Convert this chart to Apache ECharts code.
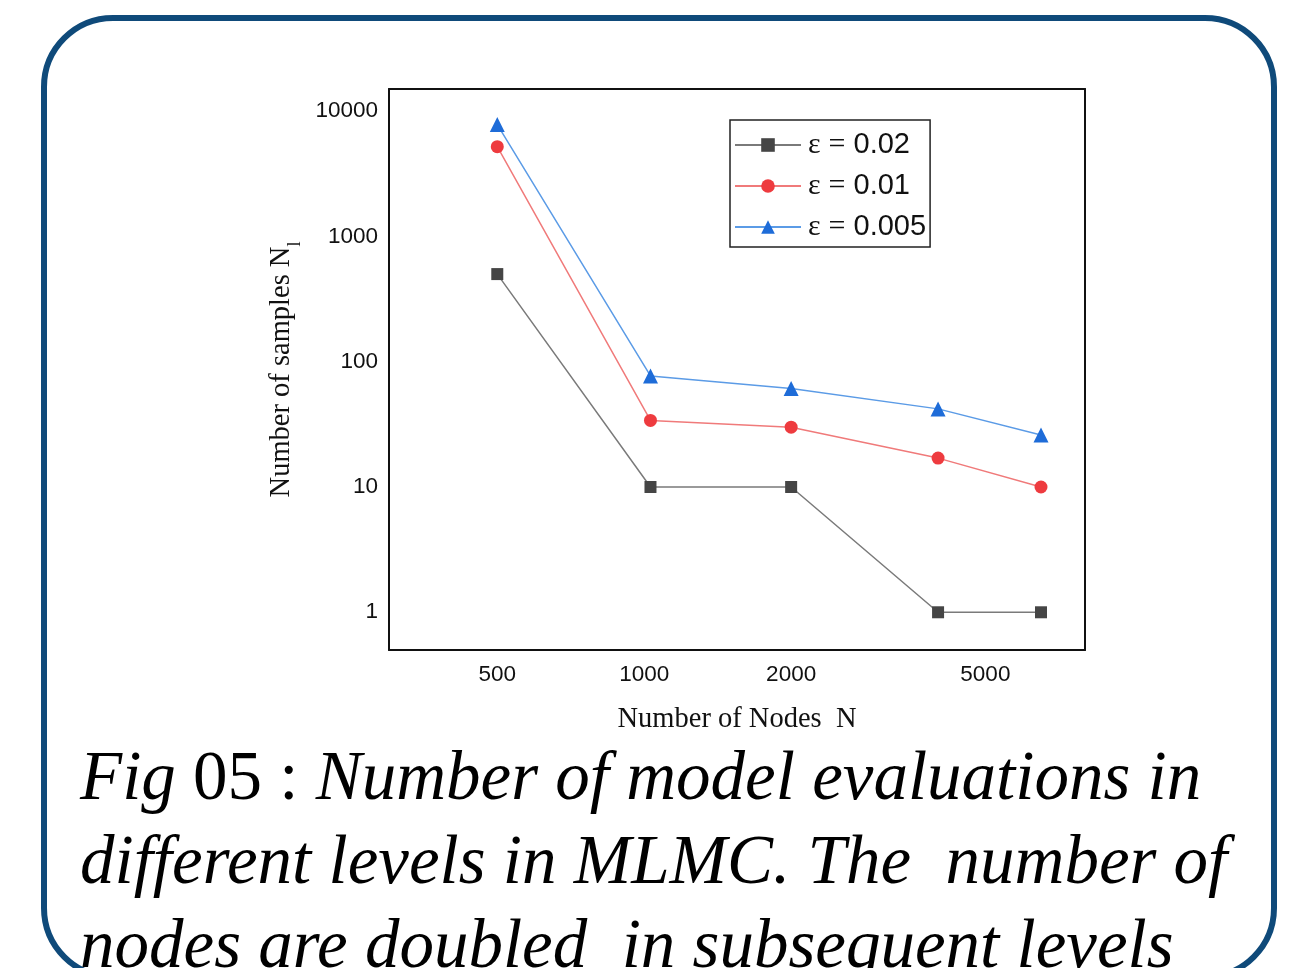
<!DOCTYPE html>
<html>
<head>
<meta charset="utf-8">
<script src="https://cdn.jsdelivr.net/npm/echarts@6/dist/echarts.min.js"></script>
<style>
  html, body { margin: 0; padding: 0; background: #fff; width: 1308px; height: 968px; overflow: hidden; position: relative; }
  #frame { position: absolute; left: 41px; top: 15px; width: 1236px; height: 965px; box-sizing: border-box;
           border: 6px solid #0f4a7a; border-radius: 72px; }
  #chart { position: absolute; left: 0; top: 0; width: 1308px; height: 968px; }
  .cap { position: absolute; left: 80px; font-family: "Liberation Serif", "DejaVu Serif", serif; font-style: italic;
         font-size: 69px; color: #000; white-space: pre; line-height: 1; }
  .up { font-style: normal; }
</style>
</head>
<body>
<div id="frame"></div>
<div id="chart"></div>
<div class="cap" id="c1" style="top:742px;">Fig <span class="up">05 :</span> Number of model evaluations in</div>
<div class="cap" id="c2" style="top:826px;">different levels in MLMC. The  number of</div>
<div class="cap" id="c3" style="top:910px;">nodes are doubled  in subsequent levels</div>
<script>
// ---- data ----
const nodes = [500, 1030, 2000, 4000, 6500];
const seriesNames = ['ε = 0.02', 'ε = 0.01', 'ε = 0.005'];
const eps002 = [500, 10, 10, 1, 1];
const eps001 = [5200, 34, 30, 17, 10];
const eps0005 = [7800, 77, 61, 42, 26];
const xTicks = [500, 1000, 2000, 5000];
const yTicks = [1, 10, 100, 1000, 10000];

const pairs = (ys) => nodes.map((n, i) => [n, ys[i]]);

const chart = echarts.init(document.getElementById('chart'), null, { renderer: 'canvas' });

const styles = [
  { line: '#7a7a7a', mark: '#454545', symbol: 'rect', size: 12 },
  { line: '#f07a7a', mark: '#ee3b3f', symbol: 'circle', size: 13 },
  { line: '#5b9be6', mark: '#1e6cd8', symbol: 'triangle', size: 15 }
];
const allData = [eps002, eps001, eps0005];
const frameLine = { show: true, onZero: false, lineStyle: { color: '#111', width: 2 } };

const option = {
  animation: false,
  grid: { left: 389, right: 223, top: 89, bottom: 318, show: false },
  legend: {
    orient: 'vertical', left: 730, top: 120,
    backgroundColor: '#fff',
    borderColor: '#222', borderWidth: 1.5, borderRadius: 0,
    padding: [10, 4, 5, 4], itemGap: 11, itemWidth: 66, itemHeight: 17,
    data: seriesNames,
    formatter: (name) => '{e|ε}{q|=}{n|' + name.slice(4) + '}',
    textStyle: {
      padding: [0, 0, 0, 2],
      rich: {
        e: { fontFamily: 'Liberation Serif', fontSize: 30, color: '#111', lineHeight: 30 },
        q: { fontFamily: 'Liberation Serif', fontSize: 30, color: '#111', lineHeight: 30, padding: [0, 8, 0, 8] },
        n: { fontFamily: 'Liberation Sans', fontSize: 29, color: '#111', lineHeight: 30 }
      }
    }
  },
  xAxis: [{
    type: 'log', logBase: 10, min: 300, max: 8000,
    name: 'Number of Nodes  N', nameLocation: 'middle', nameGap: 55,
    nameTextStyle: { fontFamily: 'Liberation Serif', fontSize: 28.5, color: '#111' },
    axisLine: frameLine,
    axisTick: { show: false },
    splitLine: { show: false }, minorSplitLine: { show: false },
    axisLabel: { customValues: xTicks, formatter: (v) => String(v), margin: 13, fontFamily: 'Liberation Sans', fontSize: 22.5, color: '#111' }
  }, {
    type: 'log', min: 300, max: 8000, position: 'top', axisLine: frameLine,
    axisTick: { show: false }, axisLabel: { show: false }, splitLine: { show: false }
  }],
  yAxis: [{
    type: 'log', logBase: 10, min: 0.5, max: 15000,
    name: 'Number of samples N{s|l}', nameLocation: 'middle', nameGap: 90, nameRotate: 90,
    nameTextStyle: { fontFamily: 'Liberation Serif', fontSize: 28.5, color: '#111',
      rich: { s: { fontFamily: 'Liberation Serif', fontSize: 18, color: '#111', verticalAlign: 'bottom', padding: [0, 0, -9, 0] } } },
    axisLine: frameLine,
    axisTick: { show: false },
    splitLine: { show: false },
    axisLabel: { customValues: yTicks, formatter: (v) => String(v), margin: 11, fontFamily: 'Liberation Sans', fontSize: 22.5, color: '#111' }
  }, {
    type: 'log', min: 0.5, max: 15000, position: 'right', axisLine: frameLine,
    axisTick: { show: false }, axisLabel: { show: false }, splitLine: { show: false }
  }],
  series: seriesNames.map((name, k) => ({
    name, type: 'line', data: pairs(allData[k]),
    symbol: styles[k].symbol, symbolSize: styles[k].size,
    lineStyle: { color: styles[k].line, width: 1.5 },
    itemStyle: { color: styles[k].mark },
    z: 3 + k
  }))
};
chart.setOption(option);
</script>
</body>
</html>
